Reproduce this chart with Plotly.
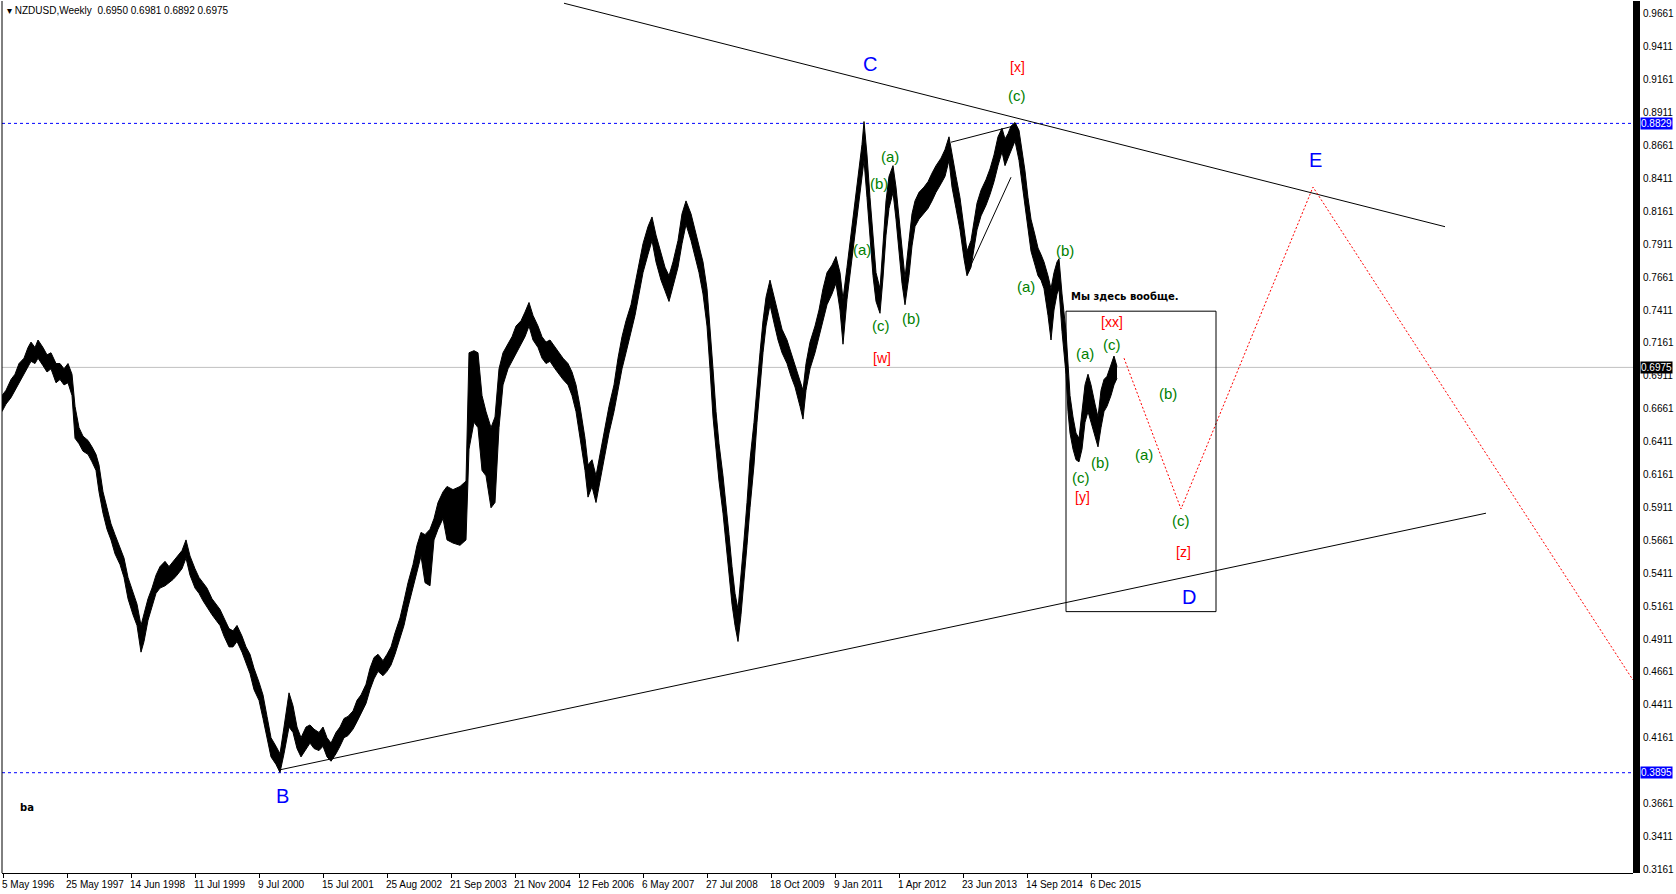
import plotly.graph_objects as go

# ---------------- data ----------------
# x-axis is the bar (week) number on the chart; labels every 64 bars
tick_bars = [0, 64, 128, 192, 256, 320, 384, 448, 512, 576, 640, 704, 768, 832, 896, 960, 1024, 1088]
tick_dates = ["5 May 1996", "25 May 1997", "14 Jun 1998", "11 Jul 1999", "9 Jul 2000", "15 Jul 2001",
              "25 Aug 2002", "21 Sep 2003", "21 Nov 2004", "12 Feb 2006", "6 May 2007", "27 Jul 2008",
              "18 Oct 2009", "9 Jan 2011", "1 Apr 2012", "23 Jun 2013", "14 Sep 2014", "6 Dec 2015"]

price_ticks = [0.9661, 0.9411, 0.9161, 0.8911, 0.8661, 0.8411, 0.8161, 0.7911, 0.7661, 0.7411,
               0.7161, 0.6911, 0.6661, 0.6411, 0.6161, 0.5911, 0.5661, 0.5411, 0.5161, 0.4911,
               0.4661, 0.4411, 0.4161, 0.3661, 0.3411, 0.3161]

# weekly highs / lows at selected bars
bar_idx = [-1, 3, 8, 12, 16, 21, 25, 28, 32, 35, 40, 44, 48, 53, 57, 61, 65, 69, 72, 76,
           80, 85, 89, 93, 96, 100, 104, 108, 112, 117, 121, 125, 130, 134, 138, 141, 145, 149, 153, 157,
           162, 166, 170, 174, 179, 183, 187, 192, 196, 200, 204, 209, 213, 217, 221, 226, 230, 234, 239, 243,
           247, 251, 256, 260, 264, 268, 273, 277, 281, 286, 290, 294, 298, 303, 307, 311, 316, 320, 324, 328,
           333, 337, 341, 345, 350, 354, 358, 363, 367, 371, 375, 380, 384, 388, 392, 397, 401, 405, 410, 414,
           418, 422, 427, 431, 435, 440, 444, 450, 457, 463, 466, 471, 475, 479, 483, 488, 492, 496, 500, 505,
           509, 513, 518, 522, 526, 530, 535, 539, 543, 547, 552, 556, 560, 565, 569, 573, 577, 582, 585, 589,
           593, 598, 602, 606, 611, 615, 619, 623, 628, 632, 636, 640, 645, 649, 653, 658, 662, 666, 670, 675,
           679, 683, 688, 692, 696, 700, 704, 707, 710, 713, 716, 720, 723, 726, 729, 732, 735, 738, 741, 744,
           747, 751, 754, 757, 760, 763, 767, 771, 775, 779, 784, 788, 792, 797, 800, 803, 807, 812, 816, 820,
           824, 829, 833, 837, 840, 844, 848, 852, 855, 859, 861, 864, 867, 870, 873, 877, 880, 883, 886, 890,
           893, 896, 899, 902, 906, 909, 912, 916, 921, 925, 929, 933, 938, 942, 946, 949, 953, 957, 961, 964,
           968, 971, 974, 978, 983, 987, 991, 995, 999, 1002, 1005, 1008, 1012, 1016, 1019, 1022, 1025, 1028, 1032, 1035,
           1038, 1041, 1045, 1048, 1051, 1054, 1056, 1059, 1063, 1065, 1067, 1070, 1073, 1076, 1079, 1082, 1085, 1088, 1092, 1095,
           1098, 1101, 1104, 1108, 1111, 1114]
bar_high = [0.6761, 0.6801, 0.6883, 0.6923, 0.7004, 0.7045, 0.7126, 0.7167, 0.7126, 0.7183, 0.7126, 0.7070, 0.7086, 0.7004, 0.7004, 0.6964, 0.7004, 0.6923, 0.6679, 0.6517,
            0.6452, 0.6420, 0.6371, 0.6314, 0.6233, 0.6029, 0.5908, 0.5786, 0.5704, 0.5607, 0.5526, 0.5379, 0.5258, 0.5176, 0.5014, 0.5095, 0.5217, 0.5298, 0.5396, 0.5461,
            0.5501, 0.5461, 0.5501, 0.5542, 0.5583, 0.5664, 0.5542, 0.5445, 0.5379, 0.5339, 0.5298, 0.5217, 0.5176, 0.5136, 0.5071, 0.4990, 0.4973, 0.5014, 0.4933, 0.4851,
            0.4795, 0.4689, 0.4583, 0.4486, 0.4323, 0.4161, 0.4096, 0.4039, 0.4242, 0.4502, 0.4404, 0.4242, 0.4161, 0.4242, 0.4258, 0.4226, 0.4201, 0.4242, 0.4161, 0.4120,
            0.4201, 0.4242, 0.4307, 0.4323, 0.4364, 0.4445, 0.4486, 0.4567, 0.4689, 0.4770, 0.4795, 0.4746, 0.4795, 0.4851, 0.4957, 0.5071, 0.5201, 0.5339, 0.5477, 0.5623,
            0.5721, 0.5704, 0.5745, 0.5826, 0.5948, 0.6029, 0.6070, 0.6046, 0.6070, 0.6111, 0.7086, 0.7102, 0.7086, 0.6761, 0.6639, 0.6517, 0.6598, 0.6964, 0.7086, 0.7151,
            0.7208, 0.7289, 0.7329, 0.7395, 0.7468, 0.7370, 0.7289, 0.7208, 0.7167, 0.7183, 0.7126, 0.7086, 0.7045, 0.7004, 0.6940, 0.6842, 0.6679, 0.6436, 0.6233, 0.6273,
            0.6151, 0.6354, 0.6517, 0.6679, 0.6842, 0.7045, 0.7208, 0.7329, 0.7451, 0.7614, 0.7776, 0.7915, 0.8045, 0.8118, 0.7980, 0.7833, 0.7736, 0.7671, 0.7776, 0.7939,
            0.8142, 0.8240, 0.8142, 0.8020, 0.7898, 0.7776, 0.7573, 0.7289, 0.6964, 0.6639, 0.6395, 0.6151, 0.5948, 0.5704, 0.5461, 0.5258, 0.5136, 0.5379, 0.5664, 0.5948,
            0.6273, 0.6558, 0.6842, 0.7086, 0.7329, 0.7508, 0.7638, 0.7508, 0.7370, 0.7265, 0.7183, 0.7086, 0.7004, 0.6883, 0.6801, 0.7004, 0.7167, 0.7289, 0.7411, 0.7573,
            0.7695, 0.7752, 0.7817, 0.7695, 0.7492, 0.7736, 0.7980, 0.8223, 0.8426, 0.8670, 0.8843, 0.8589, 0.8264, 0.7939, 0.7695, 0.7573, 0.7939, 0.8240, 0.8426, 0.8508,
            0.8345, 0.8101, 0.7858, 0.7654, 0.7939, 0.8142, 0.8240, 0.8305, 0.8345, 0.8386, 0.8451, 0.8508, 0.8565, 0.8630, 0.8727, 0.8589, 0.8426, 0.8264, 0.8045, 0.7858,
            0.7939, 0.8101, 0.8223, 0.8321, 0.8402, 0.8483, 0.8589, 0.8727, 0.8792, 0.8711, 0.8751, 0.8808, 0.8836, 0.8776, 0.8630, 0.8467, 0.8264, 0.8101, 0.7980, 0.7882,
            0.7833, 0.7776, 0.7671, 0.7573, 0.7695, 0.7776, 0.7801, 0.7533, 0.7248, 0.6964, 0.6761, 0.6598, 0.6476, 0.6436, 0.6639, 0.6842, 0.6923, 0.6842, 0.6696, 0.6598,
            0.6801, 0.6883, 0.6907, 0.7004, 0.7061, 0.6981]
bar_low = [0.6639, 0.6696, 0.6745, 0.6801, 0.6858, 0.6923, 0.6988, 0.7021, 0.7004, 0.7045, 0.6988, 0.6940, 0.6964, 0.6858, 0.6883, 0.6842, 0.6858, 0.6761, 0.6436, 0.6395,
           0.6338, 0.6314, 0.6257, 0.6192, 0.6029, 0.5867, 0.5745, 0.5664, 0.5558, 0.5477, 0.5379, 0.5217, 0.5095, 0.5014, 0.4811, 0.4892, 0.5054, 0.5152, 0.5258, 0.5298,
           0.5315, 0.5339, 0.5363, 0.5396, 0.5445, 0.5526, 0.5396, 0.5298, 0.5258, 0.5201, 0.5152, 0.5095, 0.5054, 0.5014, 0.4933, 0.4851, 0.4851, 0.4892, 0.4811, 0.4729,
           0.4648, 0.4526, 0.4445, 0.4307, 0.4161, 0.4015, 0.3958, 0.3897, 0.4039, 0.4242, 0.4201, 0.4079, 0.4015, 0.4079, 0.4120, 0.4079, 0.4063, 0.4096, 0.4015, 0.3982,
           0.4039, 0.4096, 0.4161, 0.4177, 0.4226, 0.4283, 0.4340, 0.4421, 0.4526, 0.4608, 0.4665, 0.4632, 0.4665, 0.4713, 0.4795, 0.4908, 0.5014, 0.5152, 0.5298, 0.5420,
           0.5542, 0.5339, 0.5315, 0.5664, 0.5745, 0.5826, 0.5664, 0.5640, 0.5623, 0.5664, 0.6354, 0.6558, 0.6517, 0.6192, 0.6151, 0.5908, 0.5948, 0.6517, 0.6842, 0.6964,
           0.7021, 0.7086, 0.7151, 0.7208, 0.7289, 0.7183, 0.7126, 0.7045, 0.7004, 0.7021, 0.6964, 0.6923, 0.6883, 0.6842, 0.6761, 0.6639, 0.6436, 0.6192, 0.5989, 0.6070,
           0.5948, 0.6151, 0.6314, 0.6476, 0.6639, 0.6801, 0.6964, 0.7086, 0.7248, 0.7370, 0.7533, 0.7695, 0.7833, 0.7939, 0.7776, 0.7638, 0.7557, 0.7476, 0.7590, 0.7736,
           0.7915, 0.8061, 0.7939, 0.7817, 0.7695, 0.7533, 0.7289, 0.6964, 0.6598, 0.6354, 0.6111, 0.5867, 0.5623, 0.5420, 0.5176, 0.5014, 0.4892, 0.5095, 0.5339, 0.5623,
           0.5908, 0.6233, 0.6558, 0.6842, 0.7086, 0.7289, 0.7451, 0.7313, 0.7183, 0.7086, 0.7004, 0.6907, 0.6826, 0.6679, 0.6582, 0.6801, 0.6964, 0.7086, 0.7208, 0.7346,
           0.7451, 0.7533, 0.7614, 0.7411, 0.7151, 0.7492, 0.7736, 0.7963, 0.8142, 0.8386, 0.8548, 0.8264, 0.7980, 0.7671, 0.7476, 0.7386, 0.7654, 0.7980, 0.8183, 0.8305,
           0.8101, 0.7858, 0.7614, 0.7451, 0.7671, 0.7898, 0.8045, 0.8101, 0.8142, 0.8183, 0.8240, 0.8305, 0.8370, 0.8426, 0.8548, 0.8345, 0.8183, 0.8020, 0.7801, 0.7671,
           0.7736, 0.7882, 0.8020, 0.8126, 0.8207, 0.8288, 0.8386, 0.8508, 0.8613, 0.8508, 0.8565, 0.8630, 0.8695, 0.8548, 0.8370, 0.8183, 0.8020, 0.7858, 0.7752, 0.7671,
           0.7638, 0.7573, 0.7370, 0.7183, 0.7411, 0.7533, 0.7573, 0.7248, 0.6923, 0.6639, 0.6476, 0.6354, 0.6273, 0.6257, 0.6354, 0.6558, 0.6639, 0.6558, 0.6436, 0.6371,
           0.6517, 0.6639, 0.6679, 0.6761, 0.6842, 0.6892]

header = "NZDUSD,Weekly  0.6950 0.6981 0.6892 0.6975"
last_price = 0.6975
level_high = 0.8829
level_low = 0.3895

# drawn objects (bar number, price)
upper_line = ([561, 1442], [0.9742, 0.8044])
lower_line = ([277, 1483], [0.3917, 0.5867])
wedge_top = ([948, 1014], [0.8686, 0.8816])
wedge_bottom = ([966, 1008], [0.772, 0.842])
box = (1063, 1213, 0.5119, 0.7402)
forecast = ([1121, 1178, 1310, 1630], [0.7045, 0.5899, 0.8345, 0.4599])

wave_labels = [
    ("C", 867, 0.928, "blue", 20), ("B", 279, 0.372, "blue", 20), ("D", 1186, 0.523, "blue", 20),
    ("E", 1312, 0.855, "blue", 20),
    ("[x]", 1014, 0.926, "red", 14), ("(c)", 1014, 0.904, "green", 15),
    ("(a)", 887, 0.858, "green", 15), ("(b)", 876, 0.837, "green", 15), ("(a)", 859, 0.787, "green", 15),
    ("(c)", 878, 0.729, "green", 15), ("(b)", 908, 0.735, "green", 15), ("[w]", 879, 0.705, "red", 14),
    ("(b)", 1062, 0.786, "green", 15), ("(a)", 1023, 0.759, "green", 15),
    ("[xx]", 1109, 0.732, "red", 14), ("(a)", 1082, 0.708, "green", 15), ("(c)", 1109, 0.715, "green", 15),
    ("(b)", 1165, 0.678, "green", 15), ("(a)", 1141, 0.631, "green", 15),
    ("(c)", 1078, 0.614, "green", 15), ("(b)", 1097, 0.625, "green", 15), ("[y]", 1079, 0.599, "red", 14),
    ("(c)", 1178, 0.581, "green", 15), ("[z]", 1180, 0.557, "red", 14),
]

# ---------------- figure ----------------
W, H = 1676, 894
L, R, T, B = 2, 43, 1, 21
XR = [-1, 1630]
YR = [0.31329, 0.97590]
FONT = "Liberation Sans"

fig = go.Figure()

# price bars: band between weekly high and low
fig.add_trace(go.Scatter(x=bar_idx, y=bar_high, mode="lines", line=dict(color="black", width=1),
                         hoverinfo="skip", showlegend=False))
fig.add_trace(go.Scatter(x=bar_idx, y=bar_low, mode="lines", line=dict(color="black", width=1),
                         fill="tonexty", fillcolor="black", hoverinfo="skip", showlegend=False))

# horizontal levels
for lvl, col, dash in [(level_high, "blue", "dash"), (level_low, "blue", "dash"), (last_price, "#c0c0c0", "solid")]:
    fig.add_shape(type="line", xref="paper", x0=0, x1=1, y0=lvl, y1=lvl, layer="below",
                  line=dict(color=col, width=1, dash="3px,3px" if dash == "dash" else "solid"))

# trend lines
for xs, ys in [upper_line, lower_line, wedge_top, wedge_bottom]:
    fig.add_trace(go.Scatter(x=xs, y=ys, mode="lines", line=dict(color="black", width=1),
                             hoverinfo="skip", showlegend=False))

# box
fig.add_shape(type="rect", x0=box[0], x1=box[1], y0=box[2], y1=box[3],
              line=dict(color="black", width=1))

# red dotted forecast
fig.add_trace(go.Scatter(x=forecast[0], y=forecast[1], mode="lines",
                         line=dict(color="red", width=1, dash="2px,2px"),
                         hoverinfo="skip", showlegend=False))

annotations = []
for txt, xi, yi, col, sz in wave_labels:
    annotations.append(dict(x=xi, y=yi, text=txt, showarrow=False,
                            font=dict(family=FONT, size=sz, color=col)))
annotations.append(dict(x=1066, y=0.751, text="<b>Мы здесь вообще.</b>", showarrow=False, xanchor="left",
                        font=dict(family="DejaVu Sans", size=10, color="black")))
annotations.append(dict(x=15, y=0.363, text="<b>ba</b>", showarrow=False, xanchor="left",
                        font=dict(family="DejaVu Sans", size=10, color="black")))
annotations.append(dict(xref="paper", yref="paper", x=0, y=1, xanchor="left", yanchor="top",
                        text="▾ " + header, showarrow=False, xshift=3, yshift=-2,
                        font=dict(family=FONT, size=10, color="black")))

# price axis labels
for p in price_ticks:
    annotations.append(dict(xref="paper", x=1, y=p, xanchor="left", text=f"{p:.4f}", showarrow=False,
                            xshift=8, font=dict(family=FONT, size=10, color="black")))
for p, bg in [(level_high, "blue"), (last_price, "black"), (level_low, "blue")]:
    annotations.append(dict(xref="paper", x=1, y=p, xanchor="left", text=f"{p:.4f}", showarrow=False,
                            xshift=7, bgcolor=bg, borderpad=0,
                            font=dict(family=FONT, size=10, color="white")))
# date axis labels
for b, d in zip(tick_bars, tick_dates):
    annotations.append(dict(x=b, yref="paper", y=0, yanchor="top", xanchor="left", text=d, showarrow=False,
                            xshift=-3, yshift=-4, font=dict(family=FONT, size=10, color="black")))

# thick black bar at the price scale
fig.add_shape(type="rect", xref="paper", yref="paper", x0=1, x1=1 + 7 / (W - L - R), y0=0, y1=1,
              fillcolor="black", line=dict(width=0))

fig.update_layout(
    width=W, height=H, margin=dict(l=L, r=R, t=T, b=B),
    paper_bgcolor="white", plot_bgcolor="white", showlegend=False,
    annotations=annotations,
    xaxis=dict(range=XR, showgrid=False, zeroline=False, showline=True, linecolor="black", linewidth=1,
               mirror=False, ticks="outside", ticklen=4, tickcolor="black", tickvals=tick_bars,
               showticklabels=False, fixedrange=True),
    yaxis=dict(range=YR, side="right", showgrid=False, zeroline=False, showline=False,
               showticklabels=False, ticks="", fixedrange=True),
    shapes=list(fig.layout.shapes) + [
        dict(type="line", xref="paper", yref="paper", x0=0, x1=0, y0=0, y1=1, line=dict(color="black", width=1)),
    ],
)

fig.write_html("out.html", config={"displayModeBar": False},
               post_script="document.body.style.margin='0px';")
